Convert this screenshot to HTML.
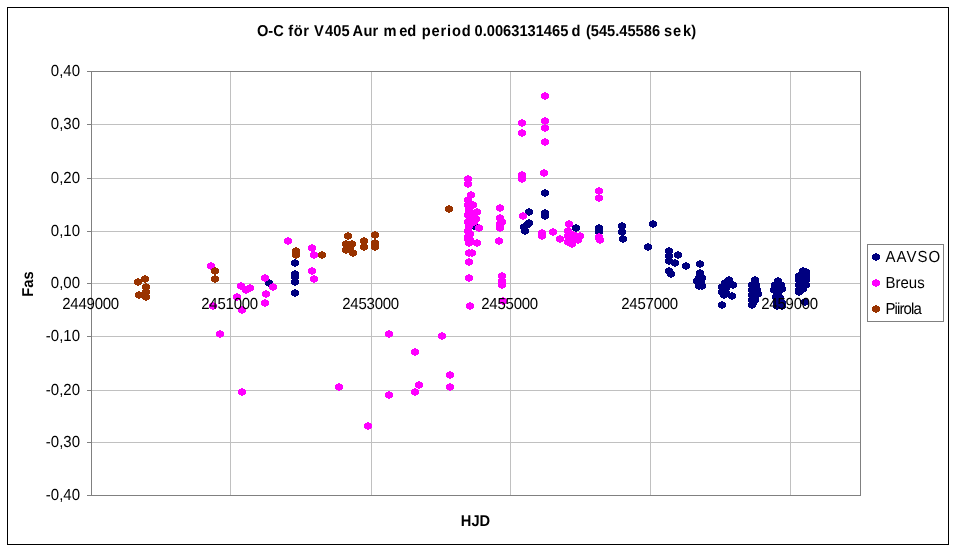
<!DOCTYPE html>
<html><head><meta charset="utf-8"><title>O-C V405 Aur</title>
<style>
html,body{margin:0;padding:0;background:#fff;}
body{width:956px;height:550px;overflow:hidden;}
svg{display:block;will-change:transform;text-rendering:geometricPrecision;font-family:"Liberation Sans",Arial,sans-serif;}
.lab{font-size:15px;fill:#000;}
.b{font-weight:bold;font-size:14.67px;}
</style></head><body>
<svg width="956" height="550" viewBox="0 0 956 550">
<rect x="0" y="0" width="956" height="550" fill="#fff"/>
<rect x="7.5" y="7.5" width="941" height="537" fill="#fff" stroke="#000" stroke-width="1"/>
<g stroke="#c0c0c0" stroke-width="1" shape-rendering="crispEdges"><line x1="91" y1="124.5" x2="860" y2="124.5"/><line x1="91" y1="178.5" x2="860" y2="178.5"/><line x1="91" y1="231.5" x2="860" y2="231.5"/><line x1="91" y1="283.5" x2="860" y2="283.5"/><line x1="91" y1="336.5" x2="860" y2="336.5"/><line x1="91" y1="390.5" x2="860" y2="390.5"/><line x1="91" y1="442.5" x2="860" y2="442.5"/><line x1="230.5" y1="71" x2="230.5" y2="495"/><line x1="371.5" y1="71" x2="371.5" y2="495"/><line x1="510.5" y1="71" x2="510.5" y2="495"/><line x1="650.5" y1="71" x2="650.5" y2="495"/><line x1="790.5" y1="71" x2="790.5" y2="495"/></g>
<g stroke="#808080" stroke-width="1" shape-rendering="crispEdges"><line x1="87" y1="71.5" x2="91" y2="71.5"/><line x1="87" y1="124.5" x2="91" y2="124.5"/><line x1="87" y1="178.5" x2="91" y2="178.5"/><line x1="87" y1="231.5" x2="91" y2="231.5"/><line x1="87" y1="283.5" x2="91" y2="283.5"/><line x1="87" y1="336.5" x2="91" y2="336.5"/><line x1="87" y1="390.5" x2="91" y2="390.5"/><line x1="87" y1="442.5" x2="91" y2="442.5"/><line x1="87" y1="495.5" x2="91" y2="495.5"/>
<rect x="91.5" y="71.5" width="769" height="424" fill="none"/></g>
<g shape-rendering="crispEdges"><g fill="#000080"><path d="M268 279h2v1h2v1h1v4h-1v1h-2v1h-2v-1h-2v-1h-1v-4h1v-1h2zM294 259h2v1h2v1h1v4h-1v1h-2v1h-2v-1h-2v-1h-1v-4h1v-1h2zM294 270h2v1h2v1h1v4h-1v1h-2v1h-2v-1h-2v-1h-1v-4h1v-1h2zM294 273h2v1h2v1h1v4h-1v1h-2v1h-2v-1h-2v-1h-1v-4h1v-1h2zM294 278h2v1h2v1h1v4h-1v1h-2v1h-2v-1h-2v-1h-1v-4h1v-1h2zM294 289h2v1h2v1h1v4h-1v1h-2v1h-2v-1h-2v-1h-1v-4h1v-1h2zM473 222h2v1h2v1h1v4h-1v1h-2v1h-2v-1h-2v-1h-1v-4h1v-1h2zM528 208h2v1h2v1h1v4h-1v1h-2v1h-2v-1h-2v-1h-1v-4h1v-1h2zM528 219h2v1h2v1h1v4h-1v1h-2v1h-2v-1h-2v-1h-1v-4h1v-1h2zM526 221h2v1h2v1h1v4h-1v1h-2v1h-2v-1h-2v-1h-1v-4h1v-1h2zM523 223h2v1h2v1h1v4h-1v1h-2v1h-2v-1h-2v-1h-1v-4h1v-1h2zM524 227h2v1h2v1h1v4h-1v1h-2v1h-2v-1h-2v-1h-1v-4h1v-1h2zM544 189h2v1h2v1h1v4h-1v1h-2v1h-2v-1h-2v-1h-1v-4h1v-1h2zM544 209h2v1h2v1h1v4h-1v1h-2v1h-2v-1h-2v-1h-1v-4h1v-1h2zM544 212h2v1h2v1h1v4h-1v1h-2v1h-2v-1h-2v-1h-1v-4h1v-1h2zM575 224h2v1h2v1h1v4h-1v1h-2v1h-2v-1h-2v-1h-1v-4h1v-1h2zM598 224h2v1h2v1h1v4h-1v1h-2v1h-2v-1h-2v-1h-1v-4h1v-1h2zM598 228h2v1h2v1h1v4h-1v1h-2v1h-2v-1h-2v-1h-1v-4h1v-1h2zM621 222h2v1h2v1h1v4h-1v1h-2v1h-2v-1h-2v-1h-1v-4h1v-1h2zM621 228h2v1h2v1h1v4h-1v1h-2v1h-2v-1h-2v-1h-1v-4h1v-1h2zM622 235h2v1h2v1h1v4h-1v1h-2v1h-2v-1h-2v-1h-1v-4h1v-1h2zM652 220h2v1h2v1h1v4h-1v1h-2v1h-2v-1h-2v-1h-1v-4h1v-1h2zM647 243h2v1h2v1h1v4h-1v1h-2v1h-2v-1h-2v-1h-1v-4h1v-1h2zM668 247h2v1h2v1h1v4h-1v1h-2v1h-2v-1h-2v-1h-1v-4h1v-1h2zM668 252h2v1h2v1h1v4h-1v1h-2v1h-2v-1h-2v-1h-1v-4h1v-1h2zM668 257h2v1h2v1h1v4h-1v1h-2v1h-2v-1h-2v-1h-1v-4h1v-1h2zM677 251h2v1h2v1h1v4h-1v1h-2v1h-2v-1h-2v-1h-1v-4h1v-1h2zM674 259h2v1h2v1h1v4h-1v1h-2v1h-2v-1h-2v-1h-1v-4h1v-1h2zM668 267h2v1h2v1h1v4h-1v1h-2v1h-2v-1h-2v-1h-1v-4h1v-1h2zM670 270h2v1h2v1h1v4h-1v1h-2v1h-2v-1h-2v-1h-1v-4h1v-1h2zM685 262h2v1h2v1h1v4h-1v1h-2v1h-2v-1h-2v-1h-1v-4h1v-1h2zM699 260h2v1h2v1h1v4h-1v1h-2v1h-2v-1h-2v-1h-1v-4h1v-1h2zM699 269h2v1h2v1h1v4h-1v1h-2v1h-2v-1h-2v-1h-1v-4h1v-1h2zM698 274h2v1h2v1h1v4h-1v1h-2v1h-2v-1h-2v-1h-1v-4h1v-1h2zM701 274h2v1h2v1h1v4h-1v1h-2v1h-2v-1h-2v-1h-1v-4h1v-1h2zM696 277h2v1h2v1h1v4h-1v1h-2v1h-2v-1h-2v-1h-1v-4h1v-1h2zM700 279h2v1h2v1h1v4h-1v1h-2v1h-2v-1h-2v-1h-1v-4h1v-1h2zM698 282h2v1h2v1h1v4h-1v1h-2v1h-2v-1h-2v-1h-1v-4h1v-1h2zM701 282h2v1h2v1h1v4h-1v1h-2v1h-2v-1h-2v-1h-1v-4h1v-1h2zM728 276h2v1h2v1h1v4h-1v1h-2v1h-2v-1h-2v-1h-1v-4h1v-1h2zM724 279h2v1h2v1h1v4h-1v1h-2v1h-2v-1h-2v-1h-1v-4h1v-1h2zM732 281h2v1h2v1h1v4h-1v1h-2v1h-2v-1h-2v-1h-1v-4h1v-1h2zM721 283h2v1h2v1h1v4h-1v1h-2v1h-2v-1h-2v-1h-1v-4h1v-1h2zM725 284h2v1h2v1h1v4h-1v1h-2v1h-2v-1h-2v-1h-1v-4h1v-1h2zM721 288h2v1h2v1h1v4h-1v1h-2v1h-2v-1h-2v-1h-1v-4h1v-1h2zM725 289h2v1h2v1h1v4h-1v1h-2v1h-2v-1h-2v-1h-1v-4h1v-1h2zM723 291h2v1h2v1h1v4h-1v1h-2v1h-2v-1h-2v-1h-1v-4h1v-1h2zM731 292h2v1h2v1h1v4h-1v1h-2v1h-2v-1h-2v-1h-1v-4h1v-1h2zM721 301h2v1h2v1h1v4h-1v1h-2v1h-2v-1h-2v-1h-1v-4h1v-1h2zM754 276h2v1h2v1h1v4h-1v1h-2v1h-2v-1h-2v-1h-1v-4h1v-1h2zM751 281h2v1h2v1h1v4h-1v1h-2v1h-2v-1h-2v-1h-1v-4h1v-1h2zM755 281h2v1h2v1h1v4h-1v1h-2v1h-2v-1h-2v-1h-1v-4h1v-1h2zM751 286h2v1h2v1h1v4h-1v1h-2v1h-2v-1h-2v-1h-1v-4h1v-1h2zM756 286h2v1h2v1h1v4h-1v1h-2v1h-2v-1h-2v-1h-1v-4h1v-1h2zM751 291h2v1h2v1h1v4h-1v1h-2v1h-2v-1h-2v-1h-1v-4h1v-1h2zM757 290h2v1h2v1h1v4h-1v1h-2v1h-2v-1h-2v-1h-1v-4h1v-1h2zM751 296h2v1h2v1h1v4h-1v1h-2v1h-2v-1h-2v-1h-1v-4h1v-1h2zM754 296h2v1h2v1h1v4h-1v1h-2v1h-2v-1h-2v-1h-1v-4h1v-1h2zM751 301h2v1h2v1h1v4h-1v1h-2v1h-2v-1h-2v-1h-1v-4h1v-1h2zM752 299h2v1h2v1h1v4h-1v1h-2v1h-2v-1h-2v-1h-1v-4h1v-1h2zM777 277h2v1h2v1h1v4h-1v1h-2v1h-2v-1h-2v-1h-1v-4h1v-1h2zM774 281h2v1h2v1h1v4h-1v1h-2v1h-2v-1h-2v-1h-1v-4h1v-1h2zM780 281h2v1h2v1h1v4h-1v1h-2v1h-2v-1h-2v-1h-1v-4h1v-1h2zM781 285h2v1h2v1h1v4h-1v1h-2v1h-2v-1h-2v-1h-1v-4h1v-1h2zM773 286h2v1h2v1h1v4h-1v1h-2v1h-2v-1h-2v-1h-1v-4h1v-1h2zM777 289h2v1h2v1h1v4h-1v1h-2v1h-2v-1h-2v-1h-1v-4h1v-1h2zM775 293h2v1h2v1h1v4h-1v1h-2v1h-2v-1h-2v-1h-1v-4h1v-1h2zM779 294h2v1h2v1h1v4h-1v1h-2v1h-2v-1h-2v-1h-1v-4h1v-1h2zM776 298h2v1h2v1h1v4h-1v1h-2v1h-2v-1h-2v-1h-1v-4h1v-1h2zM781 299h2v1h2v1h1v4h-1v1h-2v1h-2v-1h-2v-1h-1v-4h1v-1h2zM776 302h2v1h2v1h1v4h-1v1h-2v1h-2v-1h-2v-1h-1v-4h1v-1h2zM781 302h2v1h2v1h1v4h-1v1h-2v1h-2v-1h-2v-1h-1v-4h1v-1h2zM802 267h2v1h2v1h1v4h-1v1h-2v1h-2v-1h-2v-1h-1v-4h1v-1h2zM805 268h2v1h2v1h1v4h-1v1h-2v1h-2v-1h-2v-1h-1v-4h1v-1h2zM798 272h2v1h2v1h1v4h-1v1h-2v1h-2v-1h-2v-1h-1v-4h1v-1h2zM802 271h2v1h2v1h1v4h-1v1h-2v1h-2v-1h-2v-1h-1v-4h1v-1h2zM805 272h2v1h2v1h1v4h-1v1h-2v1h-2v-1h-2v-1h-1v-4h1v-1h2zM798 276h2v1h2v1h1v4h-1v1h-2v1h-2v-1h-2v-1h-1v-4h1v-1h2zM802 276h2v1h2v1h1v4h-1v1h-2v1h-2v-1h-2v-1h-1v-4h1v-1h2zM805 276h2v1h2v1h1v4h-1v1h-2v1h-2v-1h-2v-1h-1v-4h1v-1h2zM798 281h2v1h2v1h1v4h-1v1h-2v1h-2v-1h-2v-1h-1v-4h1v-1h2zM802 281h2v1h2v1h1v4h-1v1h-2v1h-2v-1h-2v-1h-1v-4h1v-1h2zM805 281h2v1h2v1h1v4h-1v1h-2v1h-2v-1h-2v-1h-1v-4h1v-1h2zM798 286h2v1h2v1h1v4h-1v1h-2v1h-2v-1h-2v-1h-1v-4h1v-1h2zM802 285h2v1h2v1h1v4h-1v1h-2v1h-2v-1h-2v-1h-1v-4h1v-1h2zM798 288h2v1h2v1h1v4h-1v1h-2v1h-2v-1h-2v-1h-1v-4h1v-1h2zM804 298h2v1h2v1h1v4h-1v1h-2v1h-2v-1h-2v-1h-1v-4h1v-1h2z"/></g>
<g fill="#ff00ff"><path d="M210 262h2v1h2v1h1v4h-1v1h-2v1h-2v-1h-2v-1h-1v-4h1v-1h2zM212 302h2v1h2v1h1v4h-1v1h-2v1h-2v-1h-2v-1h-1v-4h1v-1h2zM240 282h2v1h2v1h1v4h-1v1h-2v1h-2v-1h-2v-1h-1v-4h1v-1h2zM245 286h2v1h2v1h1v4h-1v1h-2v1h-2v-1h-2v-1h-1v-4h1v-1h2zM249 284h2v1h2v1h1v4h-1v1h-2v1h-2v-1h-2v-1h-1v-4h1v-1h2zM236 293h2v1h2v1h1v4h-1v1h-2v1h-2v-1h-2v-1h-1v-4h1v-1h2zM241 306h2v1h2v1h1v4h-1v1h-2v1h-2v-1h-2v-1h-1v-4h1v-1h2zM264 274h2v1h2v1h1v4h-1v1h-2v1h-2v-1h-2v-1h-1v-4h1v-1h2zM272 283h2v1h2v1h1v4h-1v1h-2v1h-2v-1h-2v-1h-1v-4h1v-1h2zM265 290h2v1h2v1h1v4h-1v1h-2v1h-2v-1h-2v-1h-1v-4h1v-1h2zM264 299h2v1h2v1h1v4h-1v1h-2v1h-2v-1h-2v-1h-1v-4h1v-1h2zM219 330h2v1h2v1h1v4h-1v1h-2v1h-2v-1h-2v-1h-1v-4h1v-1h2zM241 388h2v1h2v1h1v4h-1v1h-2v1h-2v-1h-2v-1h-1v-4h1v-1h2zM287 237h2v1h2v1h1v4h-1v1h-2v1h-2v-1h-2v-1h-1v-4h1v-1h2zM311 244h2v1h2v1h1v4h-1v1h-2v1h-2v-1h-2v-1h-1v-4h1v-1h2zM313 251h2v1h2v1h1v4h-1v1h-2v1h-2v-1h-2v-1h-1v-4h1v-1h2zM311 267h2v1h2v1h1v4h-1v1h-2v1h-2v-1h-2v-1h-1v-4h1v-1h2zM313 275h2v1h2v1h1v4h-1v1h-2v1h-2v-1h-2v-1h-1v-4h1v-1h2zM388 330h2v1h2v1h1v4h-1v1h-2v1h-2v-1h-2v-1h-1v-4h1v-1h2zM441 332h2v1h2v1h1v4h-1v1h-2v1h-2v-1h-2v-1h-1v-4h1v-1h2zM414 348h2v1h2v1h1v4h-1v1h-2v1h-2v-1h-2v-1h-1v-4h1v-1h2zM449 371h2v1h2v1h1v4h-1v1h-2v1h-2v-1h-2v-1h-1v-4h1v-1h2zM449 383h2v1h2v1h1v4h-1v1h-2v1h-2v-1h-2v-1h-1v-4h1v-1h2zM338 383h2v1h2v1h1v4h-1v1h-2v1h-2v-1h-2v-1h-1v-4h1v-1h2zM418 381h2v1h2v1h1v4h-1v1h-2v1h-2v-1h-2v-1h-1v-4h1v-1h2zM414 388h2v1h2v1h1v4h-1v1h-2v1h-2v-1h-2v-1h-1v-4h1v-1h2zM388 391h2v1h2v1h1v4h-1v1h-2v1h-2v-1h-2v-1h-1v-4h1v-1h2zM367 422h2v1h2v1h1v4h-1v1h-2v1h-2v-1h-2v-1h-1v-4h1v-1h2zM467 175h2v1h2v1h1v4h-1v1h-2v1h-2v-1h-2v-1h-1v-4h1v-1h2zM467 180h2v1h2v1h1v4h-1v1h-2v1h-2v-1h-2v-1h-1v-4h1v-1h2zM470 191h2v1h2v1h1v4h-1v1h-2v1h-2v-1h-2v-1h-1v-4h1v-1h2zM467 196h2v1h2v1h1v4h-1v1h-2v1h-2v-1h-2v-1h-1v-4h1v-1h2zM467 201h2v1h2v1h1v4h-1v1h-2v1h-2v-1h-2v-1h-1v-4h1v-1h2zM472 201h2v1h2v1h1v4h-1v1h-2v1h-2v-1h-2v-1h-1v-4h1v-1h2zM468 206h2v1h2v1h1v4h-1v1h-2v1h-2v-1h-2v-1h-1v-4h1v-1h2zM467 211h2v1h2v1h1v4h-1v1h-2v1h-2v-1h-2v-1h-1v-4h1v-1h2zM471 211h2v1h2v1h1v4h-1v1h-2v1h-2v-1h-2v-1h-1v-4h1v-1h2zM473 218h2v1h2v1h1v4h-1v1h-2v1h-2v-1h-2v-1h-1v-4h1v-1h2zM469 214h2v1h2v1h1v4h-1v1h-2v1h-2v-1h-2v-1h-1v-4h1v-1h2zM467 218h2v1h2v1h1v4h-1v1h-2v1h-2v-1h-2v-1h-1v-4h1v-1h2zM468 222h2v1h2v1h1v4h-1v1h-2v1h-2v-1h-2v-1h-1v-4h1v-1h2zM467 227h2v1h2v1h1v4h-1v1h-2v1h-2v-1h-2v-1h-1v-4h1v-1h2zM469 230h2v1h2v1h1v4h-1v1h-2v1h-2v-1h-2v-1h-1v-4h1v-1h2zM467 233h2v1h2v1h1v4h-1v1h-2v1h-2v-1h-2v-1h-1v-4h1v-1h2zM469 236h2v1h2v1h1v4h-1v1h-2v1h-2v-1h-2v-1h-1v-4h1v-1h2zM476 208h2v1h2v1h1v4h-1v1h-2v1h-2v-1h-2v-1h-1v-4h1v-1h2zM475 215h2v1h2v1h1v4h-1v1h-2v1h-2v-1h-2v-1h-1v-4h1v-1h2zM478 224h2v1h2v1h1v4h-1v1h-2v1h-2v-1h-2v-1h-1v-4h1v-1h2zM476 239h2v1h2v1h1v4h-1v1h-2v1h-2v-1h-2v-1h-1v-4h1v-1h2zM468 239h2v1h2v1h1v4h-1v1h-2v1h-2v-1h-2v-1h-1v-4h1v-1h2zM467 235h2v1h2v1h1v4h-1v1h-2v1h-2v-1h-2v-1h-1v-4h1v-1h2zM468 249h2v1h2v1h1v4h-1v1h-2v1h-2v-1h-2v-1h-1v-4h1v-1h2zM471 249h2v1h2v1h1v4h-1v1h-2v1h-2v-1h-2v-1h-1v-4h1v-1h2zM468 258h2v1h2v1h1v4h-1v1h-2v1h-2v-1h-2v-1h-1v-4h1v-1h2zM468 274h2v1h2v1h1v4h-1v1h-2v1h-2v-1h-2v-1h-1v-4h1v-1h2zM469 302h2v1h2v1h1v4h-1v1h-2v1h-2v-1h-2v-1h-1v-4h1v-1h2zM499 204h2v1h2v1h1v4h-1v1h-2v1h-2v-1h-2v-1h-1v-4h1v-1h2zM499 214h2v1h2v1h1v4h-1v1h-2v1h-2v-1h-2v-1h-1v-4h1v-1h2zM501 218h2v1h2v1h1v4h-1v1h-2v1h-2v-1h-2v-1h-1v-4h1v-1h2zM499 220h2v1h2v1h1v4h-1v1h-2v1h-2v-1h-2v-1h-1v-4h1v-1h2zM499 224h2v1h2v1h1v4h-1v1h-2v1h-2v-1h-2v-1h-1v-4h1v-1h2zM498 237h2v1h2v1h1v4h-1v1h-2v1h-2v-1h-2v-1h-1v-4h1v-1h2zM501 272h2v1h2v1h1v4h-1v1h-2v1h-2v-1h-2v-1h-1v-4h1v-1h2zM501 277h2v1h2v1h1v4h-1v1h-2v1h-2v-1h-2v-1h-1v-4h1v-1h2zM501 281h2v1h2v1h1v4h-1v1h-2v1h-2v-1h-2v-1h-1v-4h1v-1h2zM502 297h2v1h2v1h1v4h-1v1h-2v1h-2v-1h-2v-1h-1v-4h1v-1h2zM544 92h2v1h2v1h1v4h-1v1h-2v1h-2v-1h-2v-1h-1v-4h1v-1h2zM521 119h2v1h2v1h1v4h-1v1h-2v1h-2v-1h-2v-1h-1v-4h1v-1h2zM521 129h2v1h2v1h1v4h-1v1h-2v1h-2v-1h-2v-1h-1v-4h1v-1h2zM544 117h2v1h2v1h1v4h-1v1h-2v1h-2v-1h-2v-1h-1v-4h1v-1h2zM544 124h2v1h2v1h1v4h-1v1h-2v1h-2v-1h-2v-1h-1v-4h1v-1h2zM544 138h2v1h2v1h1v4h-1v1h-2v1h-2v-1h-2v-1h-1v-4h1v-1h2zM521 171h2v1h2v1h1v4h-1v1h-2v1h-2v-1h-2v-1h-1v-4h1v-1h2zM521 175h2v1h2v1h1v4h-1v1h-2v1h-2v-1h-2v-1h-1v-4h1v-1h2zM543 169h2v1h2v1h1v4h-1v1h-2v1h-2v-1h-2v-1h-1v-4h1v-1h2zM522 212h2v1h2v1h1v4h-1v1h-2v1h-2v-1h-2v-1h-1v-4h1v-1h2zM541 229h2v1h2v1h1v4h-1v1h-2v1h-2v-1h-2v-1h-1v-4h1v-1h2zM541 232h2v1h2v1h1v4h-1v1h-2v1h-2v-1h-2v-1h-1v-4h1v-1h2zM552 228h2v1h2v1h1v4h-1v1h-2v1h-2v-1h-2v-1h-1v-4h1v-1h2zM559 235h2v1h2v1h1v4h-1v1h-2v1h-2v-1h-2v-1h-1v-4h1v-1h2zM568 220h2v1h2v1h1v4h-1v1h-2v1h-2v-1h-2v-1h-1v-4h1v-1h2zM567 227h2v1h2v1h1v4h-1v1h-2v1h-2v-1h-2v-1h-1v-4h1v-1h2zM567 232h2v1h2v1h1v4h-1v1h-2v1h-2v-1h-2v-1h-1v-4h1v-1h2zM567 238h2v1h2v1h1v4h-1v1h-2v1h-2v-1h-2v-1h-1v-4h1v-1h2zM572 236h2v1h2v1h1v4h-1v1h-2v1h-2v-1h-2v-1h-1v-4h1v-1h2zM575 232h2v1h2v1h1v4h-1v1h-2v1h-2v-1h-2v-1h-1v-4h1v-1h2zM579 232h2v1h2v1h1v4h-1v1h-2v1h-2v-1h-2v-1h-1v-4h1v-1h2zM577 236h2v1h2v1h1v4h-1v1h-2v1h-2v-1h-2v-1h-1v-4h1v-1h2zM572 231h2v1h2v1h1v4h-1v1h-2v1h-2v-1h-2v-1h-1v-4h1v-1h2zM571 240h2v1h2v1h1v4h-1v1h-2v1h-2v-1h-2v-1h-1v-4h1v-1h2zM598 187h2v1h2v1h1v4h-1v1h-2v1h-2v-1h-2v-1h-1v-4h1v-1h2zM598 194h2v1h2v1h1v4h-1v1h-2v1h-2v-1h-2v-1h-1v-4h1v-1h2zM598 233h2v1h2v1h1v4h-1v1h-2v1h-2v-1h-2v-1h-1v-4h1v-1h2zM599 236h2v1h2v1h1v4h-1v1h-2v1h-2v-1h-2v-1h-1v-4h1v-1h2zM598 234h2v1h2v1h1v4h-1v1h-2v1h-2v-1h-2v-1h-1v-4h1v-1h2z"/></g>
<g fill="#993300"><path d="M137 278h2v1h2v1h1v4h-1v1h-2v1h-2v-1h-2v-1h-1v-4h1v-1h2zM144 275h2v1h2v1h1v4h-1v1h-2v1h-2v-1h-2v-1h-1v-4h1v-1h2zM145 283h2v1h2v1h1v4h-1v1h-2v1h-2v-1h-2v-1h-1v-4h1v-1h2zM145 288h2v1h2v1h1v4h-1v1h-2v1h-2v-1h-2v-1h-1v-4h1v-1h2zM145 293h2v1h2v1h1v4h-1v1h-2v1h-2v-1h-2v-1h-1v-4h1v-1h2zM138 291h2v1h2v1h1v4h-1v1h-2v1h-2v-1h-2v-1h-1v-4h1v-1h2zM214 267h2v1h2v1h1v4h-1v1h-2v1h-2v-1h-2v-1h-1v-4h1v-1h2zM214 275h2v1h2v1h1v4h-1v1h-2v1h-2v-1h-2v-1h-1v-4h1v-1h2zM295 247h2v1h2v1h1v4h-1v1h-2v1h-2v-1h-2v-1h-1v-4h1v-1h2zM295 251h2v1h2v1h1v4h-1v1h-2v1h-2v-1h-2v-1h-1v-4h1v-1h2zM321 251h2v1h2v1h1v4h-1v1h-2v1h-2v-1h-2v-1h-1v-4h1v-1h2zM347 232h2v1h2v1h1v4h-1v1h-2v1h-2v-1h-2v-1h-1v-4h1v-1h2zM345 240h2v1h2v1h1v4h-1v1h-2v1h-2v-1h-2v-1h-1v-4h1v-1h2zM351 240h2v1h2v1h1v4h-1v1h-2v1h-2v-1h-2v-1h-1v-4h1v-1h2zM345 246h2v1h2v1h1v4h-1v1h-2v1h-2v-1h-2v-1h-1v-4h1v-1h2zM352 249h2v1h2v1h1v4h-1v1h-2v1h-2v-1h-2v-1h-1v-4h1v-1h2zM349 245h2v1h2v1h1v4h-1v1h-2v1h-2v-1h-2v-1h-1v-4h1v-1h2zM363 237h2v1h2v1h1v4h-1v1h-2v1h-2v-1h-2v-1h-1v-4h1v-1h2zM363 243h2v1h2v1h1v4h-1v1h-2v1h-2v-1h-2v-1h-1v-4h1v-1h2zM374 231h2v1h2v1h1v4h-1v1h-2v1h-2v-1h-2v-1h-1v-4h1v-1h2zM374 239h2v1h2v1h1v4h-1v1h-2v1h-2v-1h-2v-1h-1v-4h1v-1h2zM374 243h2v1h2v1h1v4h-1v1h-2v1h-2v-1h-2v-1h-1v-4h1v-1h2zM448 205h2v1h2v1h1v4h-1v1h-2v1h-2v-1h-2v-1h-1v-4h1v-1h2z"/></g></g>
<g class="lab"><text x="80" y="76" text-anchor="end" transform="matrix(1 0 0 1.07 0 -5.32)" dy="0.4">0,40</text><text x="80" y="129" text-anchor="end" transform="matrix(1 0 0 1.07 0 -9.03)" dy="0.4">0,30</text><text x="80" y="183" text-anchor="end" transform="matrix(1 0 0 1.07 0 -12.81)" dy="0.4">0,20</text><text x="80" y="236" text-anchor="end" transform="matrix(1 0 0 1.07 0 -16.52)" dy="0.4">0,10</text><text x="80" y="288" text-anchor="end" transform="matrix(1 0 0 1.07 0 -20.16)" dy="0.4">0,00</text><text x="80" y="341" text-anchor="end" transform="matrix(1 0 0 1.07 0 -23.87)" dy="0.4">-0,10</text><text x="80" y="395" text-anchor="end" transform="matrix(1 0 0 1.07 0 -27.65)" dy="0.4">-0,20</text><text x="80" y="447" text-anchor="end" transform="matrix(1 0 0 1.07 0 -31.29)" dy="0.4">-0,30</text><text x="80" y="500" text-anchor="end" transform="matrix(1 0 0 1.07 0 -35.00)" dy="0.4">-0,40</text><text x="90.6" y="309" text-anchor="middle" letter-spacing="-0.25" transform="matrix(1 0 0 1.07 0 -21.63)">2449000</text><text x="229.6" y="309" text-anchor="middle" letter-spacing="-0.25" transform="matrix(1 0 0 1.07 0 -21.63)">2451000</text><text x="370.6" y="309" text-anchor="middle" letter-spacing="-0.25" transform="matrix(1 0 0 1.07 0 -21.63)">2453000</text><text x="509.6" y="309" text-anchor="middle" letter-spacing="-0.25" transform="matrix(1 0 0 1.07 0 -21.63)">2455000</text><text x="649.6" y="309" text-anchor="middle" letter-spacing="-0.25" transform="matrix(1 0 0 1.07 0 -21.63)">2457000</text><text x="789.6" y="309" text-anchor="middle" letter-spacing="-0.25" transform="matrix(1 0 0 1.07 0 -21.63)">2459000</text></g>
<text class="lab b" y="36" transform="matrix(1 0 0 1.07 0 -2.52)"><tspan x="256.9">O-C </tspan><tspan x="288.3" letter-spacing="0.6">för </tspan><tspan x="313.9">V</tspan><tspan x="325.1">405 </tspan><tspan x="352.5">A</tspan><tspan x="363.6">ur </tspan><tspan x="383.5">m</tspan><tspan x="399.2">ed </tspan><tspan x="421.8" letter-spacing="0.8">period </tspan><tspan x="474.6">0.0063131465 </tspan><tspan x="571.6">d </tspan><tspan x="585.9">(545.45586 </tspan><tspan x="663.9">s</tspan><tspan x="673.1">e</tspan><tspan x="683.0">k)</tspan></text>
<text class="lab b" x="475.5" y="526" text-anchor="middle" transform="matrix(1 0 0 1.07 0 -36.82)">HJD</text>
<text class="lab b" transform="translate(33.2,284) rotate(-90) scale(1,1.07)" text-anchor="middle">Fas</text>
<rect x="867.5" y="244.5" width="76" height="77" fill="#fff" stroke="#808080" stroke-width="1" shape-rendering="crispEdges"/>
<g shape-rendering="crispEdges"><path fill="#000080" d="M875 253h2v1h2v1h1v4h-1v1h-2v1h-2v-1h-2v-1h-1v-4h1v-1h2z"/>
<path fill="#ff00ff" d="M875 279h2v1h2v1h1v4h-1v1h-2v1h-2v-1h-2v-1h-1v-4h1v-1h2z"/>
<path fill="#993300" d="M875 305h2v1h2v1h1v4h-1v1h-2v1h-2v-1h-2v-1h-1v-4h1v-1h2z"/></g>
<g class="lab"><text x="885.5" y="262" letter-spacing="1" transform="matrix(1 0 0 1.07 0 -18.34)">AAVSO</text><text x="885.5" y="288" transform="matrix(1 0 0 1.07 0 -20.16)">Breus</text><text x="885.5" y="314" letter-spacing="-0.9" transform="matrix(1 0 0 1.07 0 -21.98)">Piirola</text></g>
</svg>
</body></html>
